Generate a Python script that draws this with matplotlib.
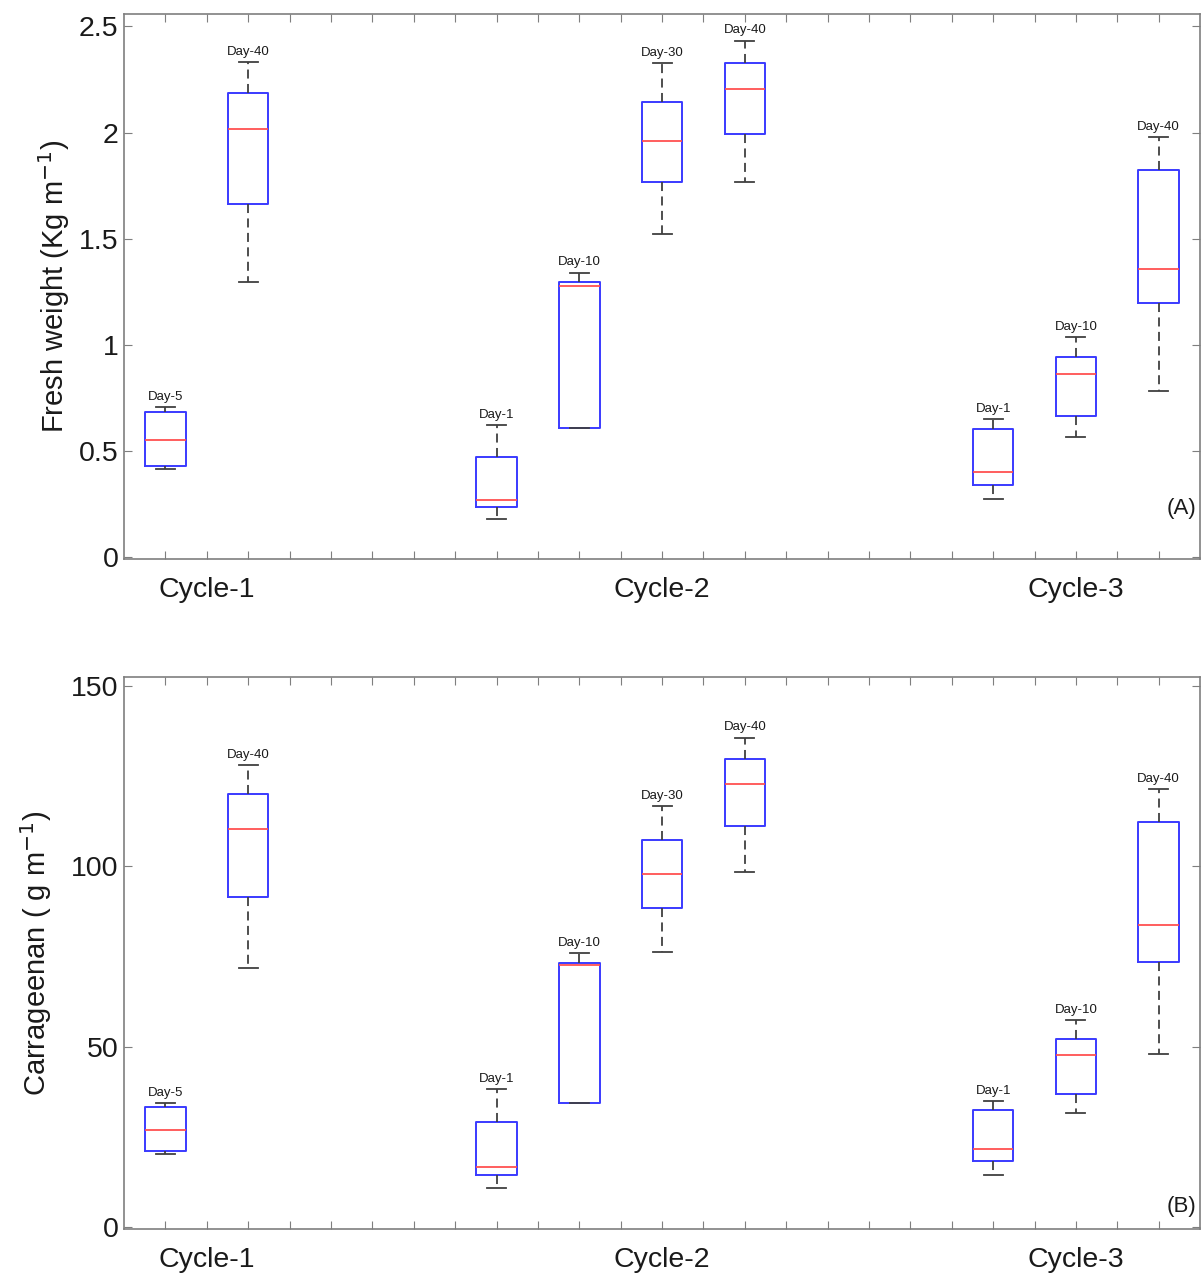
import matplotlib
matplotlib.use("Agg")
import matplotlib.pyplot as plt
import matplotlib.transforms as mtransforms

plt.rcParams["font.family"] = ["Liberation Sans", "DejaVu Sans"]

# box positions on the 1..25 grid and their labels
POSITIONS = [1, 3, 9, 11, 13, 15, 21, 23, 25]
DAY_LABELS = ["Day-5", "Day-40", "Day-1", "Day-10", "Day-30", "Day-40",
              "Day-1", "Day-10", "Day-40"]
CYCLE_POS = [2, 13, 23]
CYCLE_LABELS = ["Cycle-1", "Cycle-2", "Cycle-3"]

# (A) fresh weight, Kg m-1
FW_WHISLO = [0.417, 1.299, 0.183, 0.610, 1.524, 1.768, 0.277, 0.568, 0.783]
FW_Q1 = [0.431, 1.665, 0.239, 0.610, 1.768, 1.993, 0.342, 0.666, 1.196]
FW_MED = [0.553, 2.017, 0.272, 1.276, 1.961, 2.204, 0.403, 0.863, 1.360]
FW_Q3 = [0.685, 2.186, 0.474, 1.295, 2.144, 2.326, 0.605, 0.943, 1.825]
FW_WHISHI = [0.708, 2.331, 0.624, 1.341, 2.326, 2.434, 0.652, 1.037, 1.979]

# (B) carrageenan, g m-1
CA_WHISLO = [20.2, 71.8, 10.8, 34.4, 76.2, 98.5, 14.4, 31.6, 48.0]
CA_Q1 = [21.1, 91.5, 14.4, 34.4, 88.4, 111.2, 18.3, 36.9, 73.5]
CA_MED = [26.9, 110.3, 16.6, 72.6, 97.9, 122.8, 21.6, 47.7, 83.7]
CA_Q3 = [33.3, 120.0, 29.1, 73.2, 107.3, 129.7, 32.4, 52.1, 112.3]
CA_WHISHI = [34.4, 128.1, 38.3, 76.0, 116.7, 135.6, 34.9, 57.4, 121.4]

GRAY = "#7f7f7f"


def draw_panel(ax, whislo, q1, med, q3, whishi, ylim, yticks, ylabel, tag,
               tag_y, labelpad):
    stats = []
    for lo, a, m, b, hi in zip(whislo, q1, med, q3, whishi):
        stats.append({"whislo": lo, "q1": a, "med": m, "q3": b,
                      "whishi": hi, "fliers": []})
    ax.bxp(stats, positions=POSITIONS, widths=0.98, capwidths=0.46,
           showfliers=False, manage_ticks=False,
           boxprops=dict(color="#3a3aff", linewidth=1.4),
           medianprops=dict(color="#ff5050", linewidth=1.3),
           whiskerprops=dict(color="#404040", linewidth=1.3, linestyle=(0, (5, 3))),
           capprops=dict(color="#404040", linewidth=1.3))

    for x, hi, lab in zip(POSITIONS, whishi, DAY_LABELS):
        ax.annotate(lab, (x, hi), xytext=(0, 3), textcoords="offset points",
                    ha="center", va="bottom", fontsize=9.5, color="#1a1a1a")

    ax.set_xlim(0, 26)
    ax.set_ylim(*ylim)
    ax.set_xticks(range(1, 26))
    ax.set_xticklabels([])
    ax.set_yticks(yticks)
    ax.set_yticklabels([f"{t:g}" for t in yticks])
    ax.tick_params(direction="in", length=6, color=GRAY, top=True, right=True,
                   labelsize=20.5, labelcolor="#1a1a1a", pad=4)
    for s in ax.spines.values():
        s.set_color(GRAY)
        s.set_linewidth(1.2)

    trans = mtransforms.blended_transform_factory(ax.transData, ax.transAxes)
    for x, lab in zip(CYCLE_POS, CYCLE_LABELS):
        ax.text(x, -0.033, lab, transform=trans, ha="center", va="top",
                fontsize=20.5, color="#1a1a1a")

    ax.text(0.997, tag_y, tag, transform=ax.transAxes, ha="right",
            va="center", fontsize=16, color="#1a1a1a")
    ax.set_ylabel(ylabel, fontsize=21, color="#1a1a1a", labelpad=labelpad)


fig = plt.figure(figsize=(12.02, 12.73), dpi=100)
ax_a = fig.add_axes([0.1032, 0.5605, 0.8952, 0.4287])
ax_b = fig.add_axes([0.1032, 0.0345, 0.8952, 0.4340])

draw_panel(ax_a, FW_WHISLO, FW_Q1, FW_MED, FW_Q3, FW_WHISHI,
           (-0.01, 2.56), [0, 0.5, 1, 1.5, 2, 2.5],
           "Fresh weight (Kg m$^{-1}$)", "(A)", 0.093, 5)
draw_panel(ax_b, CA_WHISLO, CA_Q1, CA_MED, CA_Q3, CA_WHISHI,
           (-0.5, 152.5), [0, 50, 100, 150],
           "Carrageenan ( g m$^{-1}$)", "(B)", 0.04, 12)

fig.savefig("out.png", dpi=100)
